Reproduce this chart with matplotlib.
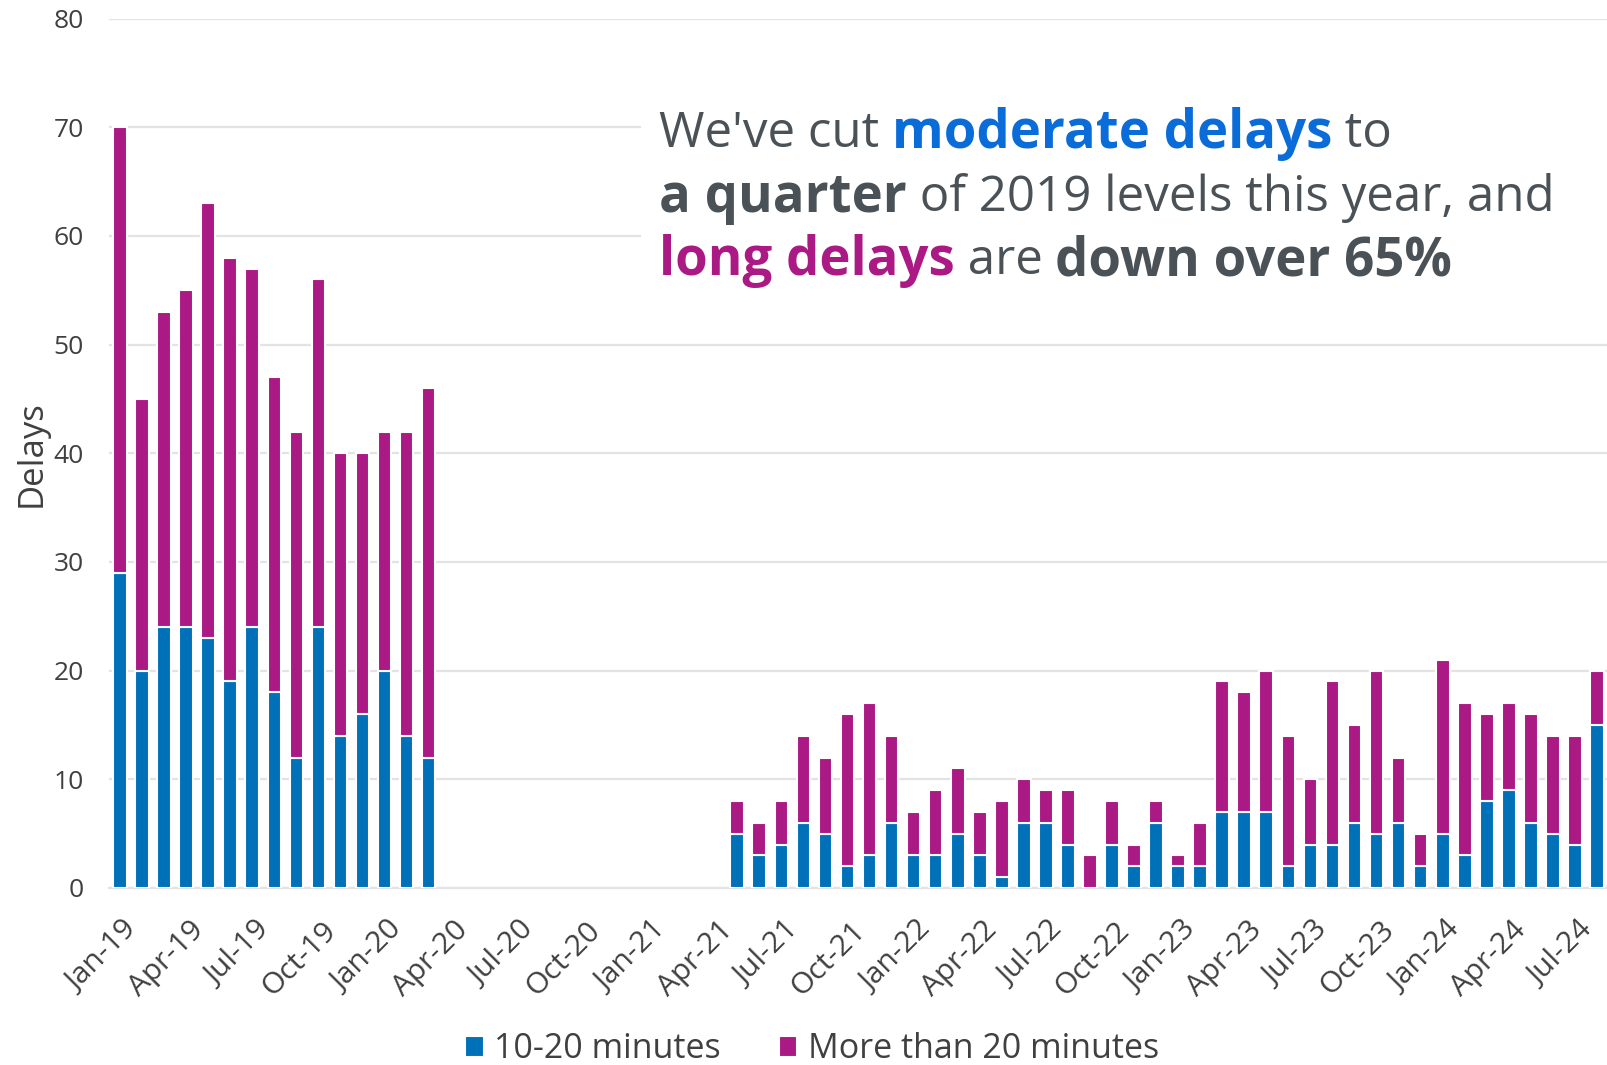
import matplotlib
matplotlib.use('Agg')
import matplotlib.pyplot as plt
import matplotlib.transforms as mtransforms
from matplotlib.patches import Rectangle
import numpy as np
import pandas as pd

plt.rcParams['font.family'] = ['Open Sans', 'DejaVu Sans']

# monthly delays, Jan-19 .. Aug-24 (no data Apr-20 .. Apr-21)
months = pd.date_range('2019-01-01', '2024-08-01', freq='MS')
moderate_2019 = [29, 20, 24, 24, 23, 19, 24, 18, 12, 24, 14, 16, 20, 14, 12]
total_2019 = [70, 45, 53, 55, 63, 58, 57, 47, 42, 56, 40, 40, 42, 42, 46]
gap_months = 13
moderate_late = [5, 3, 4, 6, 5, 2, 3, 6, 3, 3, 5, 3, 1, 6, 6, 4, 0, 4, 2, 6,
                 2, 2, 7, 7, 7, 2, 4, 4, 6, 5, 6, 2, 5, 3, 8, 9, 6, 5, 4, 15]
total_late = [8, 6, 8, 14, 12, 16, 17, 14, 7, 9, 11, 7, 8, 10, 9, 9, 3, 8, 4, 8,
              3, 6, 19, 18, 20, 14, 10, 19, 15, 20, 12, 5, 21, 17, 16, 17, 16, 14, 14, 20]

moderate = np.array(moderate_2019 + [np.nan] * gap_months + moderate_late, dtype=float)
total = np.array(total_2019 + [np.nan] * gap_months + total_late, dtype=float)
long_ = total - moderate
labels = [m.strftime('%b-%y') for m in months]

BLUE = '#0071b9'
MAGENTA = '#ab1a84'
GREY = '#4b5257'
TEXT_BLUE = '#0a6cd8'

fig = plt.figure(figsize=(16.08, 10.65), dpi=100)
ax = fig.add_axes([0.0678, 0.1662, 0.9322, 0.8164])

x = np.arange(len(months))
ax.bar(x, moderate, width=0.62, color=BLUE, edgecolor='white', linewidth=1.5, zorder=3,
       label='10-20 minutes')
ax.bar(x, long_, bottom=moderate, width=0.62, color=MAGENTA, edgecolor='white', linewidth=1.5,
       zorder=3, label='More than 20 minutes')

ax.set_xlim(-0.5, len(months) - 0.5)
ax.set_ylim(0, 80)
ax.set_yticks(range(0, 81, 10))
ax.set_axisbelow(True)
ax.yaxis.grid(True, color='#e3e3e3', linewidth=1.6)
for s in ['top', 'right', 'left']:
    ax.spines[s].set_visible(False)
ax.spines['bottom'].set_color('#e3e3e3')
ax.spines['bottom'].set_linewidth(1.6)
ax.tick_params(axis='both', length=0)
ax.set_xticks(x[::3])
ax.set_xticklabels(labels[::3], rotation=45, ha='right', rotation_mode='anchor',
                   fontsize=21.5, color='#404040')
ax.set_yticklabels([str(v) for v in range(0, 81, 10)], fontsize=19, color='#404040')
ax.tick_params(axis='y', pad=18)
ax.tick_params(axis='x', pad=10)
# nudge the slanted labels down a bit like the original
shift = mtransforms.ScaledTranslation(0.03, -0.14, fig.dpi_scale_trans)
for lab in ax.get_xticklabels():
    lab.set_transform(lab.get_transform() + shift)
ax.set_ylabel('Delays', fontsize=25, color='#404040', labelpad=4)

# white box behind headline
ax.add_patch(Rectangle((0.355, 0.70), 0.645, 0.24, transform=ax.transAxes,
                       facecolor='white', edgecolor='none', zorder=1.5))

# headline with mixed colours
renderer = fig.canvas.get_renderer()
lines = [
    [("We've cut ", GREY, 'normal'), ("moderate delays", TEXT_BLUE, 'bold'), (" to", GREY, 'normal')],
    [("a quarter", GREY, 'bold'), (" of 2019 levels this year, and", GREY, 'normal')],
    [("long delays", MAGENTA, 'bold'), (" are ", GREY, 'normal'), ("down over 65%", GREY, 'bold')],
]
y0 = 1 - 134 / 1065
for line in lines:
    xx = 659 / 1608
    for s, c, w in line:
        size = 38 if w == 'bold' else 35.5
        t = fig.text(xx, y0, s, color=c, fontweight=w, fontsize=size, va='center', ha='left', zorder=5)
        bb = t.get_window_extent(renderer)
        xx += bb.width / fig.bbox.width
    y0 -= 63.6 / 1065

leg = fig.legend(loc='lower center', bbox_to_anchor=(0.505, -0.03), ncol=2, frameon=False,
                 fontsize=24.5, handlelength=0.55, handleheight=0.55, handletextpad=0.3,
                 columnspacing=1.7)
for t in leg.get_texts():
    t.set_color('#404040')

fig.savefig('out.png', dpi=100)
